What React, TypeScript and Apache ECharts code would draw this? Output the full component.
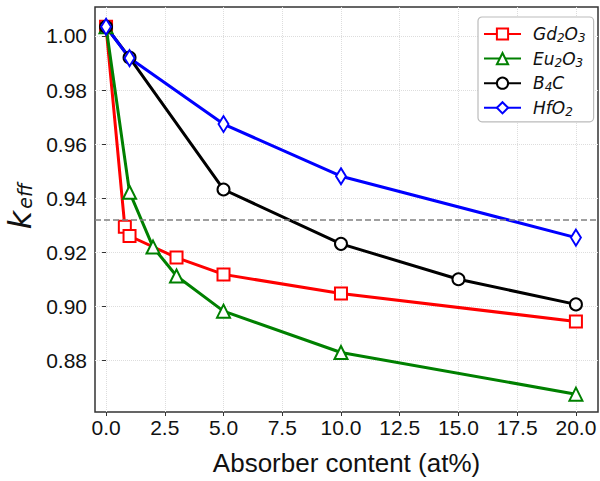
import React, { useEffect, useRef } from "react";
import * as echarts from "echarts";

const gdX = [0, 0.8, 1, 3, 5, 10, 20];
const gdY = [1.0034, 0.9294, 0.926, 0.918, 0.9118, 0.9047, 0.8944];
const euX = [0, 1, 2, 3, 5, 10, 20];
const euY = [1.0034, 0.9422, 0.9219, 0.9112, 0.8982, 0.8829, 0.8675];
const b4cX = [0, 1, 5, 10, 15, 20];
const b4cY = [1.0034, 0.992, 0.9432, 0.9231, 0.91, 0.9007];
const hfX = [0, 1, 5, 10, 20];
const hfY = [1.0034, 0.9918, 0.9674, 0.9481, 0.9254];
const xTicks = [0, 2.5, 5, 7.5, 10, 12.5, 15, 17.5, 20];
const yTicks = [0.88, 0.9, 0.92, 0.94, 0.96, 0.98, 1.0];
const refLine = 0.932;
const names = ["Gd2O3", "Eu2O3", "B4C", "HfO2"];

const pairs = (xs: number[], ys: number[]) => xs.map((x, i) => [x, ys[i]]);

// Turn "Gd2O3" into rich text with digits as subscripts
const toRich = (s: string) =>
  s
    .split(/(\d+)/)
    .filter((p) => p.length > 0)
    .map((p) => (/^\d+$/.test(p) ? `{s|${p}}` : `{i|${p}}`))
    .join("");

export default function App() {
  const ref = useRef<HTMLDivElement>(null);
  useEffect(() => {
    document.body.style.margin = "0";
    const chart = echarts.init(ref.current!, null, { renderer: "svg" });
    const tickFont = "Liberation Sans";
    const mk = (
      name: string,
      color: string,
      data: number[][],
      symbol: string,
      symbolSize: any,
      extra: any = {}
    ) => ({
      name,
      type: "line",
      data,
      symbol,
      symbolSize,
      showAllSymbol: true,
      lineStyle: { color, width: 3 },
      itemStyle: { color, borderColor: color, borderWidth: 2 },
      emphasis: { disabled: true },
      ...extra,
    });
    chart.setOption({
      animation: false,
      backgroundColor: "#fff",
      grid: {
        left: 95,
        right: 2,
        top: 7,
        bottom: 68,
        show: true,
        borderColor: "#333",
        borderWidth: 1.5,
        backgroundColor: "transparent",
      },
      xAxis: {
        type: "value",
        min: -0.47,
        max: 20.94,
        name: "Absorber content (at%)",
        nameLocation: "middle",
        nameGap: 38,
        nameTextStyle: { fontFamily: tickFont, fontSize: 26, color: "#111" },
        axisLine: { show: false },
        axisTick: {
          show: true,
          length: 4,
          customValues: xTicks,
          lineStyle: { color: "#333", width: 1 },
        },
        axisLabel: {
          customValues: xTicks,
          fontFamily: tickFont,
          fontSize: 21,
          color: "#111",
          margin: 5,
          formatter: (v: number) => v.toFixed(1),
        },
        splitLine: {
          show: true,
          lineStyle: { color: "#ddd", type: "dotted", width: 1 },
        },
      },
      yAxis: {
        type: "value",
        min: 0.8609,
        max: 1.0107,
        axisLine: { show: false },
        axisTick: {
          show: true,
          length: 4,
          customValues: yTicks,
          lineStyle: { color: "#333", width: 1 },
        },
        axisLabel: {
          customValues: yTicks,
          fontFamily: tickFont,
          fontSize: 21,
          color: "#111",
          margin: 8,
          formatter: (v: number) => v.toFixed(2),
        },
        splitLine: {
          show: true,
          lineStyle: { color: "#ddd", type: "dotted", width: 1 },
        },
      },
      legend: {
        orient: "vertical",
        left: 478,
        top: 17,
        padding: [7, 8, 4, 5],
        itemWidth: 37,
        itemHeight: 14,
        itemGap: 4.6,
        backgroundColor: "#fff",
        borderColor: "#bbb",
        borderWidth: 1.2,
        borderRadius: 4,
        data: names,
        formatter: (n: string) => toRich(n),
        textStyle: {
          fontFamily: "DejaVu Sans",
          fontStyle: "italic",
          fontSize: 17,
          lineHeight: 20,
          color: "#111",
          padding: [0, 0, 0, 7],
          rich: {
            i: {
              fontFamily: "DejaVu Sans",
              fontStyle: "italic",
              fontSize: 17,
              lineHeight: 20,
              color: "#111",
            },
            s: {
              fontFamily: "DejaVu Sans",
              fontStyle: "italic",
              fontSize: 12,
              lineHeight: 12,
              verticalAlign: "bottom",
              color: "#111",
            },
          },
        },
      },
      graphic: [
        {
          type: "text",
          x: 20,
          y: 220,
          rotation: Math.PI / 2,
          style: {
            text: "k",
            fontFamily: "DejaVu Sans",
            fontStyle: "italic",
            fontSize: 32,
            fill: "#111",
            align: "center",
            verticalAlign: "middle",
          },
        },
        {
          type: "text",
          x: 25,
          y: 196,
          rotation: Math.PI / 2,
          style: {
            text: "eff",
            fontFamily: "DejaVu Sans",
            fontStyle: "italic",
            fontSize: 19,
            fill: "#111",
            align: "center",
            verticalAlign: "middle",
          },
        },
      ],
      series: [
        mk(names[0], "#ff0000", pairs(gdX, gdY), "emptyRect", 12, {
          markLine: {
            silent: true,
            symbol: "none",
            precision: 4,
            label: { show: false },
            lineStyle: { color: "#808080", type: [6, 3], width: 1.5 },
            data: [{ yAxis: refLine }],
          },
        }),
        mk(names[1], "#008000", pairs(euX, euY), "emptyTriangle", 13),
        mk(names[2], "#000000", pairs(b4cX, b4cY), "emptyCircle", 12),
        mk(names[3], "#0000ff", pairs(hfX, hfY), "emptyDiamond", [10, 16]),
      ],
    });
    return () => chart.dispose();
  }, []);
  return <div ref={ref} style={{ width: 600, height: 481 }} />;
}
